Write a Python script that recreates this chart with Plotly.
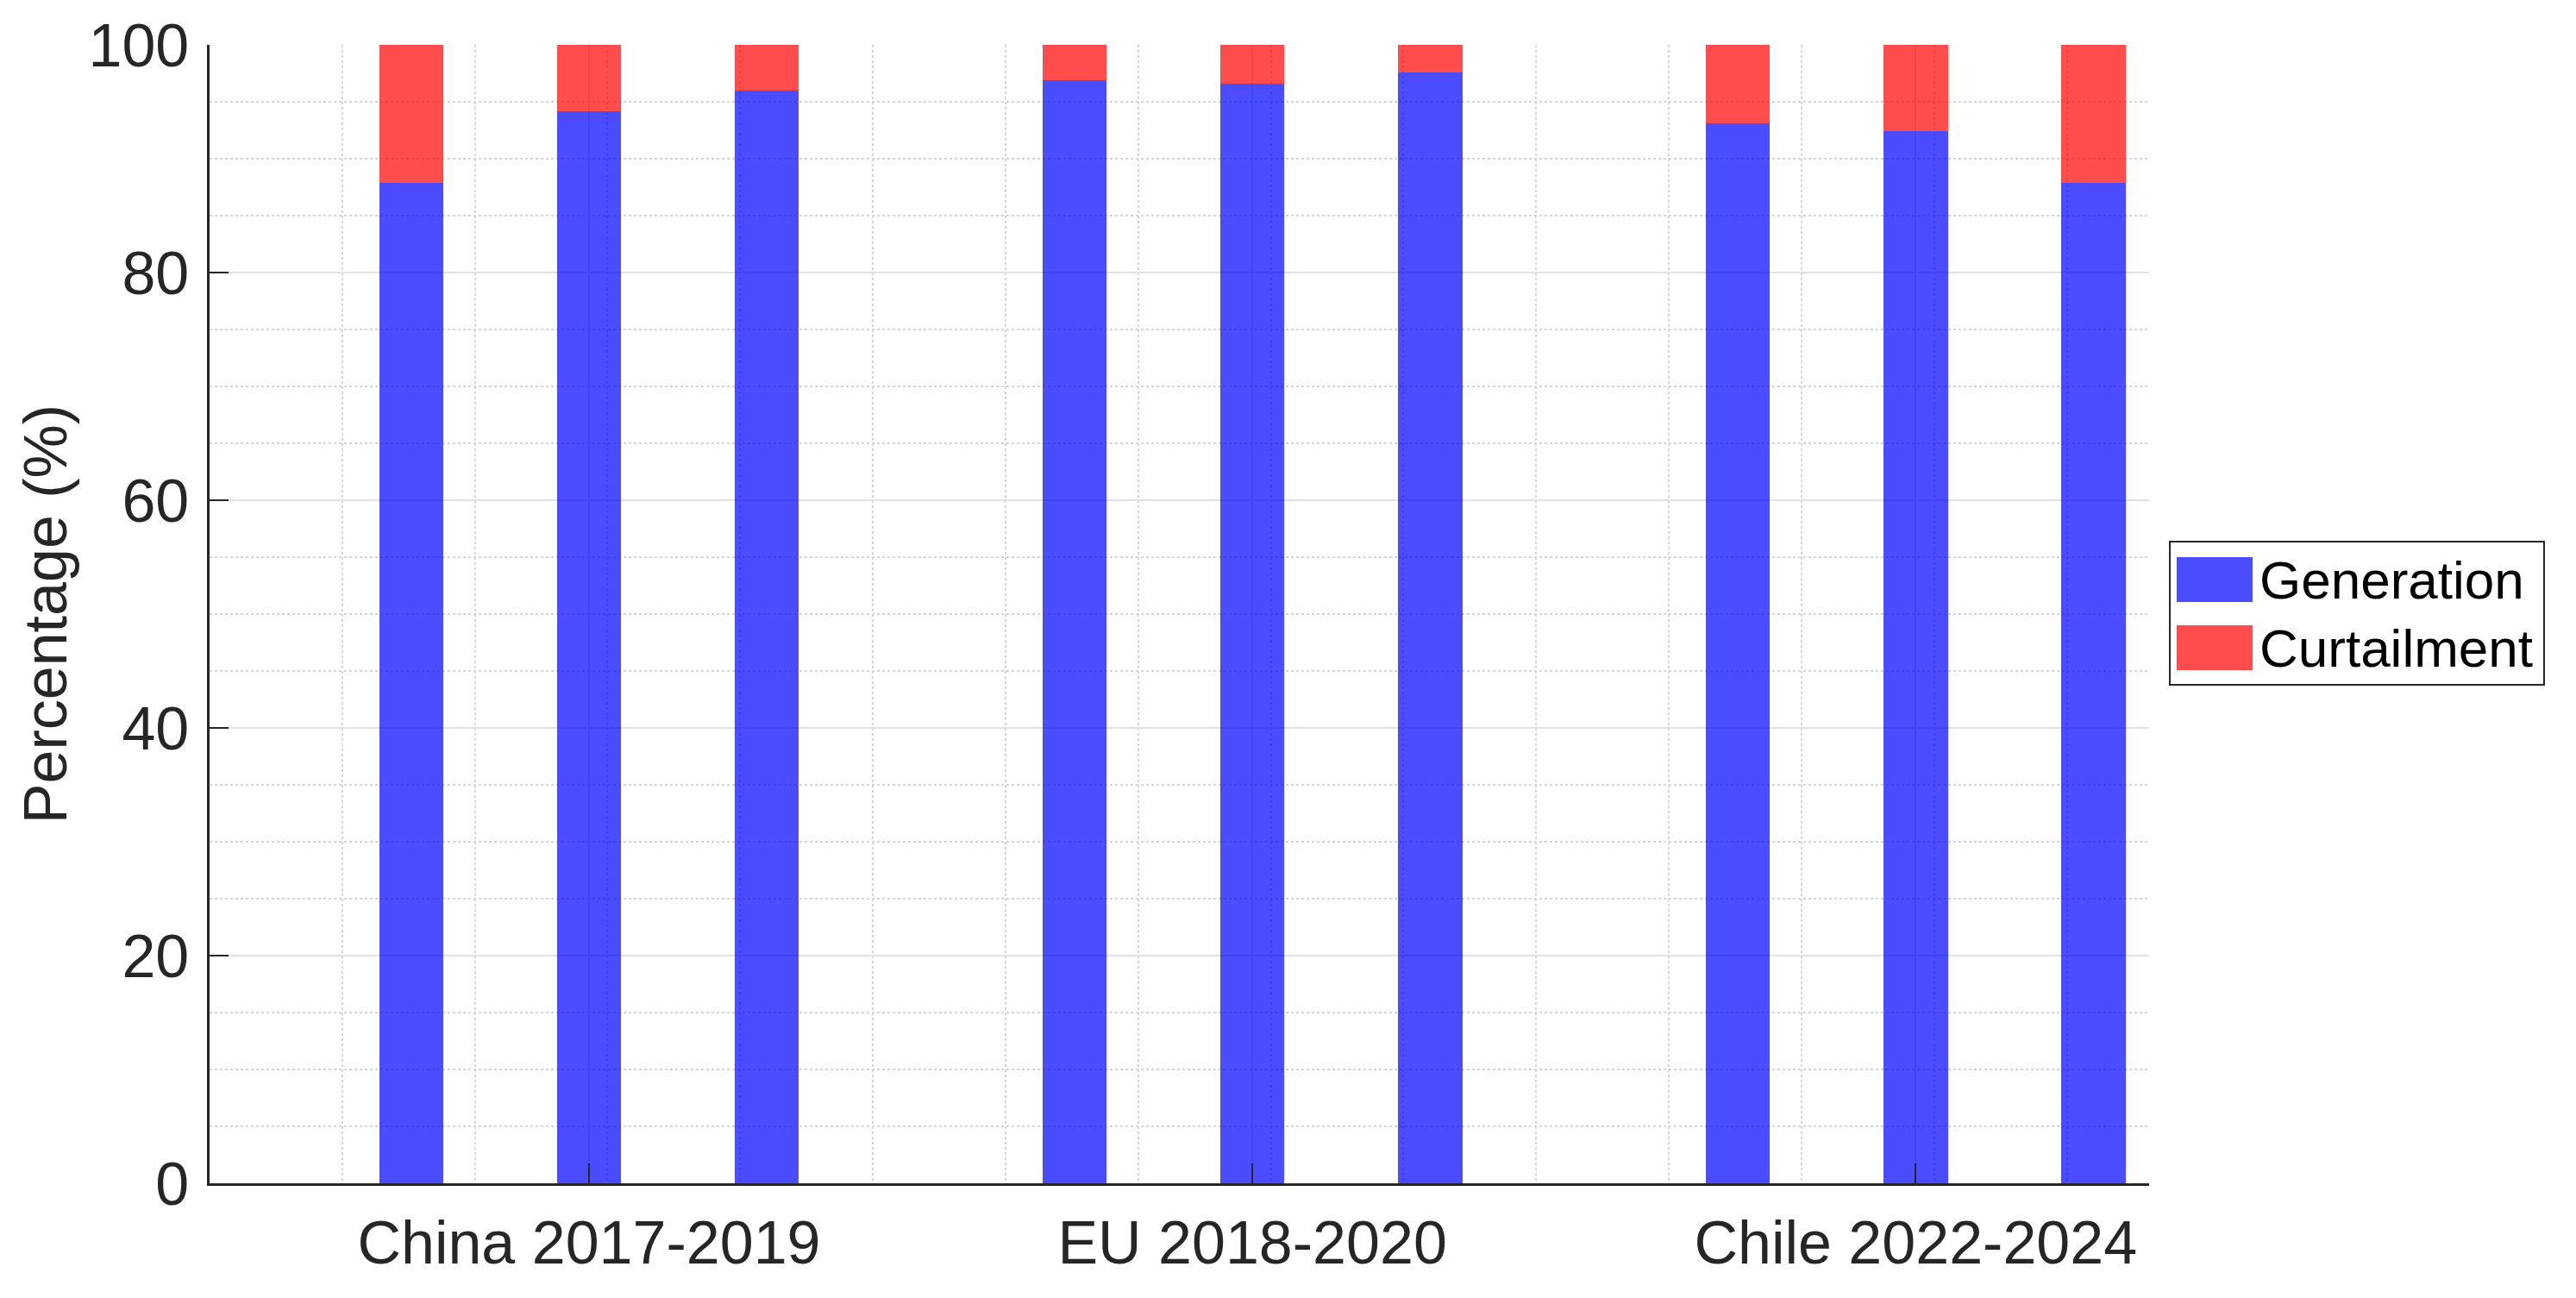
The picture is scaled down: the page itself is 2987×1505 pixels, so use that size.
import plotly.graph_objects as go

# ---- data ----
groups = ["China 2017-2019", "EU 2018-2020", "Chile 2022-2024"]
years_per_group = 3
generation = [87.9, 94.2, 96.0, 96.9, 96.6, 97.6, 93.1, 92.4, 87.9]
curtailment = [round(100 - g, 1) for g in generation]
series_names = ["Generation", "Curtailment"]
y_ticks = [0, 20, 40, 60, 80, 100]

# ---- layout constants ----
W, H = 2987, 1505
L, R, T, B = 243, 2492, 52, 1372
bar_offset = 0.268
bar_width = 0.097
group_pos = [i + 1 for i in range(len(groups))]
xpos = [group_pos[i // years_per_group] + (i % years_per_group - 1) * bar_offset
        for i in range(len(generation))]

FONT = "Liberation Sans, Arial, Helvetica, sans-serif"
TXT = "#262626"
BLUE = "rgba(0,0,255,0.7)"
RED = "rgba(255,0,0,0.7)"

fig = go.Figure()
fig.add_trace(go.Bar(x=xpos, y=generation, width=bar_width, name=series_names[0],
                     marker=dict(color=BLUE, line=dict(width=0)), showlegend=False))
fig.add_trace(go.Bar(x=xpos, y=curtailment, width=bar_width, name=series_names[1],
                     marker=dict(color=RED, line=dict(width=0)), showlegend=False))

fig.update_layout(
    barmode="stack",
    width=W, height=H,
    margin=dict(l=L, r=W - R, t=T, b=H - B, pad=0, autoexpand=False),
    paper_bgcolor="white", plot_bgcolor="white",
    font=dict(family=FONT, size=70, color=TXT),
)
fig.update_xaxes(
    range=[0.428, 3.352], automargin=False,
    tickmode="array", tickvals=group_pos, ticktext=groups,
    ticks="inside", ticklen=23, tickwidth=2, tickcolor=TXT,
    showline=True, linecolor=TXT, linewidth=2.5,
    showgrid=True, gridcolor="#E2E2E2", gridwidth=2,
    minor=dict(tickmode="linear", tick0=0.428, dtick=0.2, showgrid=True,
               gridcolor="#D6D6D6", griddash="dot", gridwidth=1.5, ticks=""),
    ticklabelstandoff=6,
    zeroline=False,
)
fig.update_yaxes(
    range=[0, 100], automargin=False,
    tickmode="array", tickvals=y_ticks,
    ticks="inside", ticklen=22, tickwidth=2, tickcolor=TXT,
    showline=True, linecolor=TXT, linewidth=2.5,
    showgrid=True, gridcolor="#E2E2E2", gridwidth=2,
    minor=dict(tickmode="linear", tick0=0, dtick=5, showgrid=True,
               gridcolor="#D6D6D6", griddash="dot", gridwidth=1.5, ticks=""),
    ticklabelstandoff=7,
    title=dict(text="Percentage (%)", standoff=2, font=dict(size=70)),
    zeroline=False,
)

# ---- manual legend (MATLAB-style box with large swatches) ----
def px2paper_x(px):
    return (px - L) / (R - L)

def px2paper_y(py):
    return (B - py) / (B - T)

fig.add_shape(type="rect", xref="paper", yref="paper",
              x0=px2paper_x(2516), x1=px2paper_x(2950),
              y0=px2paper_y(794), y1=px2paper_y(628),
              line=dict(color=TXT, width=2), fillcolor="white", layer="above")
legend_rows = [(series_names[0], BLUE, 646, 698), (series_names[1], RED, 725, 777)]
for name, col, y0, y1 in legend_rows:
    fig.add_shape(type="rect", xref="paper", yref="paper",
                  x0=px2paper_x(2524), x1=px2paper_x(2612),
                  y0=px2paper_y(y1), y1=px2paper_y(y0),
                  line=dict(width=0), fillcolor=col, layer="above")
    fig.add_annotation(xref="paper", yref="paper",
                       x=px2paper_x(2618), y=px2paper_y((y0 + y1) / 2),
                       text=name, showarrow=False, xanchor="left", yanchor="middle",
                       font=dict(family=FONT, size=62, color="black"))

fig.write_html("out.html", config={"displayModeBar": False},
               post_script="document.body.style.margin='0';document.body.style.overflow='hidden';")
